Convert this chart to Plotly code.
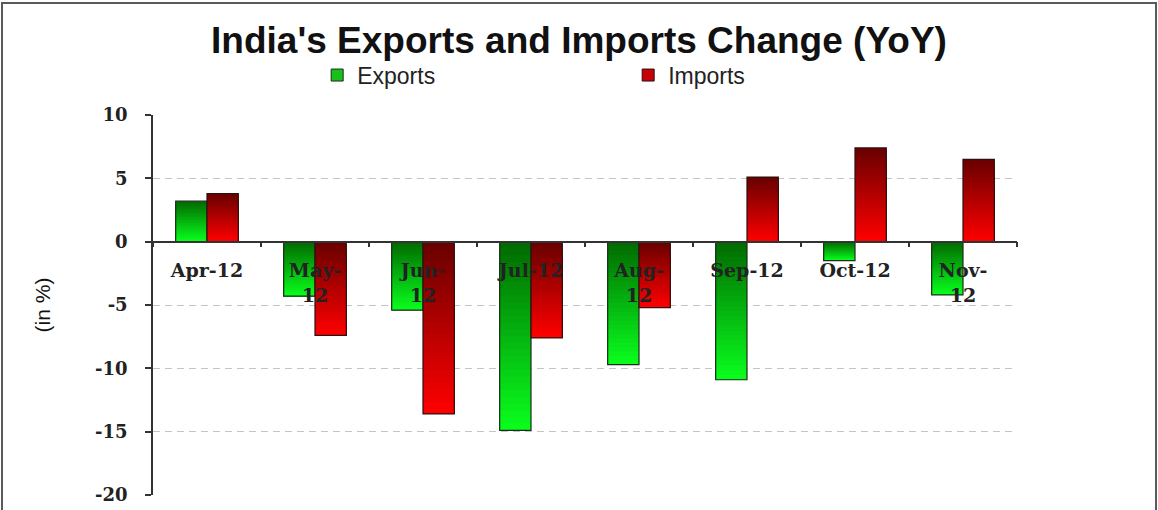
import plotly.graph_objects as go

# Monthly year-on-year change of India's merchandise trade (in %)
categories = ["Apr-12", "May-12", "Jun-12", "Jul-12", "Aug-12", "Sep-12", "Oct-12", "Nov-12"]
tick_text = ["Apr-12", "May-<br>12", "Jun-<br>12", "Jul-12", "Aug-<br>12", "Sep-12", "Oct-12", "Nov-<br>12"]
exports = [3.2, -4.3, -5.4, -14.9, -9.7, -10.9, -1.5, -4.2]
imports = [3.8, -7.4, -13.6, -7.6, -5.2, 5.1, 7.4, 6.5]

y_ticks = [10, 5, 0, -5, -10, -15, -20]
y_tick_text = ["10", "5", "0", "-5", "-10", "-15", "-20"]

BAR_W = 0.29
N_STEPS = 28


def lerp(c1, c2, t):
    return "rgb(%d,%d,%d)" % tuple(round(a + (b - a) * t) for a, b in zip(c1, c2))


def gradient_bars(fig, values, offset, dark, bright, outline):
    """Vertical gradient bars (dark at the top, bright at the bottom),
    built from nested bars that all share the bar's bottom edge."""
    tops = [max(v, 0) for v in values]
    bots = [min(v, 0) for v in values]
    spans = [t - b for t, b in zip(tops, bots)]
    for k in range(N_STEPS):
        frac = 1 - k / N_STEPS
        fig.add_trace(go.Bar(
            x=categories,
            y=[s * frac for s in spans],
            base=bots,
            offset=offset, width=BAR_W,
            marker=dict(color=lerp(dark, bright, (k + 0.5) / N_STEPS), line=dict(width=0)),
            showlegend=False, hoverinfo="skip",
        ))
    fig.add_trace(go.Bar(
        x=categories, y=values,
        offset=offset, width=BAR_W,
        marker=dict(color="rgba(0,0,0,0)", line=dict(color=outline, width=1.2)),
        showlegend=False,
    ))


fig = go.Figure()
gradient_bars(fig, exports, -BAR_W, (0, 105, 0), (10, 255, 30), "#1b2e1b")
gradient_bars(fig, imports, 0, (104, 0, 0), (255, 0, 0), "#2e1010")

# legend swatches
fig.add_trace(go.Bar(x=[None], y=[None], name="Exports",
                     marker=dict(color="#19c019", line=dict(color="#1b2e1b", width=1))))
fig.add_trace(go.Bar(x=[None], y=[None], name="Imports",
                     marker=dict(color="#c8000a", line=dict(color="#2e1010", width=1))))

label_font = dict(family="DejaVu Serif", size=19, color="#222222", weight="bold")

fig.update_layout(
    width=1158, height=510,
    margin=dict(l=153, r=141, t=115, b=15),
    paper_bgcolor="white", plot_bgcolor="white",
    barmode="overlay",
    title=dict(
        text="<b>India's Exports and Imports Change (YoY)</b>",
        font=dict(family="Liberation Sans, Arial", size=37, color="#111111"),
        x=0.5, xref="container", xanchor="center",
        y=1 - 40 / 510, yref="container", yanchor="middle",
    ),
    legend=dict(
        orientation="h", x=0.19, xanchor="left", y=1.105, yanchor="middle",
        font=dict(family="Liberation Sans, Arial", size=23, color="#222222"),
        entrywidth=266, entrywidthmode="pixels",
        itemclick=False, bgcolor="rgba(0,0,0,0)",
    ),
    xaxis=dict(
        type="category", categoryorder="array", categoryarray=categories,
        range=[-0.5, len(categories) - 0.5],
        tickmode="array", tickvals=categories, ticktext=tick_text,
        anchor="free", position=(0 - (-20)) / (10 - (-20)),
        showline=True, linecolor="#333333", linewidth=1.5,
        ticks="outside", tickson="boundaries", ticklen=5, tickcolor="#333333", tickwidth=1.5,
        tickfont=label_font, ticklabelstandoff=12,
        showgrid=False, zeroline=False, automargin=False,
    ),
    yaxis=dict(
        range=[-20, 10], tickmode="array", tickvals=y_ticks, ticktext=y_tick_text,
        showline=True, linecolor="#333333", linewidth=1.5,
        ticks="outside", ticklen=6, tickcolor="#333333", tickwidth=1.5,
        tickfont=dict(family="DejaVu Serif", size=18, color="#222222", weight="bold"),
        ticklabelstandoff=14,
        showgrid=True, gridcolor="#c4c4c4", gridwidth=1, griddash="7px,5px",
        zeroline=False, automargin=False,
        title=dict(text="(in %)", font=dict(family="Liberation Sans, Arial", size=21, color="#111111"),
                   standoff=39),
    ),
    shapes=[dict(
        type="rect", xref="paper", yref="paper",
        x0=(2 - 153) / 864, x1=(1156 - 153) / 864,
        y0=(495 - 520) / 380, y1=(495 - 3) / 380,
        line=dict(color="#5a5a5a", width=2), fillcolor="rgba(0,0,0,0)", layer="above",
    )],
)

fig.write_html("out.html")
